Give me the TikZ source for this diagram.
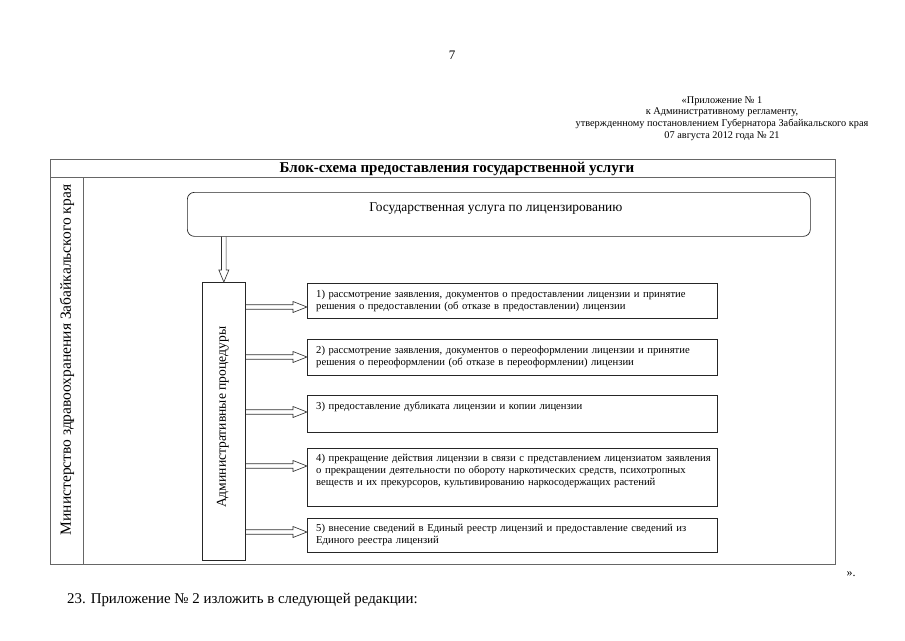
\documentclass[tikz,border=0pt]{standalone}
\usepackage{fontspec}
\setmainfont{Liberation Serif}
\usetikzlibrary{calc}
\newcommand\myHarrow[2]{\draw[arrowst] let \p1=(#1), \p2=(#2) in (\x1,\y1+2.3pt) -- (\x2-14pt,\y1+2.3pt) -- (\x2-14pt,\y1+5.5pt) -- (\x2,\y1) -- (\x2-14pt,\y1-5.5pt) -- (\x2-14pt,\y1-2.3pt) -- (\x1,\y1-2.3pt);}
\newcommand\myVarrow[2]{\draw[arrowst] let \p1=(#1), \p2=(#2) in (\x1-2.3pt,\y1) -- (\x1-2.3pt,\y2+12pt) -- (\x1-5pt,\y2+12pt) -- (\x1,\y2) -- (\x1+5pt,\y2+12pt) -- (\x1+2.3pt,\y2+12pt) -- (\x1+2.3pt,\y1);}
\begin{document}
\begin{tikzpicture}[x=1pt,y=-1pt,
  framest/.style={draw=black!60, line width=0.8pt},
  procbox/.style={draw=black!85, line width=0.7pt, anchor=north west, inner sep=0pt, minimum width=410pt},
  boxtext/.style={anchor=north west, font=\fontsize{10.65}{12}\selectfont, align=left, inner sep=0pt, text width=405pt},
  arrowst/.style={draw=black!80, line width=0.65pt}]
\useasboundingbox (0,0) rectangle (905,640);
\fill[white] (0,0) rectangle (905,640);

% page number and header
\node[font=\fontsize{13}{15}\selectfont] (pnum) at (452,55) {7};
\node[align=center, font=\fontsize{10.3}{11.7}\selectfont, inner sep=0pt] (header) at (722,118.5)
  {«Приложение № 1\\к Административному регламенту,\\утвержденному постановлением Губернатора Забайкальского края\\07 августа 2012 года № 21};

% frame
\node[framest, anchor=north west, minimum width=785pt, minimum height=405pt, inner sep=0pt] (frame) at (50,159) {};
\draw[framest] (frame.west |- 0,177) -- (frame.east |- 0,177);
\draw[framest] (83,177) -- (frame.south -| 83,0);
\node[font=\bfseries\fontsize{15}{17}\selectfont] (title) at (457,168.5) {Блок-схема предоставления государственной услуги};
\node[rotate=90, font=\fontsize{15.5}{17}\selectfont] (ministry) at (67,360) {Министерство здравоохранения Забайкальского края};

% top rounded box
\node[draw=black!85, line width=0.7pt, rounded corners=7pt, anchor=north west, minimum width=623pt, minimum height=44pt, inner sep=0pt] (top) at (187,192) {};
\node[font=\fontsize{13.4}{15}\selectfont] (toptext) at ($(top.north)+(-3,17)$) {Государственная услуга по лицензированию};

% admin box
\node[draw=black!85, line width=0.7pt, anchor=north west, minimum width=43pt, minimum height=278pt, inner sep=0pt] (adm) at (202,282) {};
\node[rotate=90, font=\fontsize{13.6}{15}\selectfont] (admtext) at ($(adm.center)+(-1,-4)$) {Административные процедуры};

% procedure boxes
\node[procbox, minimum height=35pt] (b1) at (307,283) {};
\node[procbox, minimum height=36pt] (b2) at (307,339) {};
\node[procbox, minimum height=37pt] (b3) at (307,395) {};
\node[procbox, minimum height=58pt] (b4) at (307,448) {};
\node[procbox, minimum height=34pt] (b5) at (307,518) {};

\node[boxtext] (t1) at ($(b1.north west)+(9,7)$) {1) рассмотрение заявления, документов о предоставлении лицензии и принятие\\решения о предоставлении (об отказе в предоставлении) лицензии};
\node[boxtext] (t2) at ($(b2.north west)+(9,7)$) {2) рассмотрение заявления, документов о переоформлении лицензии и принятие\\решения о переоформлении (об отказе в переоформлении) лицензии};
\node[boxtext] (t3) at ($(b3.north west)+(9,7)$) {3) предоставление дубликата лицензии и копии лицензии};
\node[boxtext] (t4) at ($(b4.north west)+(9,6)$) {4) прекращение действия лицензии в связи с представлением лицензиатом заявления\\о прекращении деятельности по обороту наркотических средств, психотропных\\веществ и их прекурсоров, культивированию наркосодержащих растений};
\node[boxtext] (t5) at ($(b5.north west)+(9,6)$) {5) внесение сведений в Единый реестр лицензий и предоставление сведений из\\Единого реестра лицензий};

% arrows
\coordinate (e1) at (307,307);
\coordinate (e2) at (307,357);
\coordinate (e3) at (307,412);
\coordinate (e4) at (307,466);
\coordinate (e5) at (307,532);
\myVarrow{top.south -| adm.north}{adm.north}
\myHarrow{adm.east |- e1}{e1}
\myHarrow{adm.east |- e2}{e2}
\myHarrow{adm.east |- e3}{e3}
\myHarrow{adm.east |- e4}{e4}
\myHarrow{adm.east |- e5}{e5}

% trailing text
\node[font=\fontsize{12}{14}\selectfont] (close) at (851,574) {».};
\node[anchor=west, font=\fontsize{14.9}{17}\selectfont, inner sep=0pt] (para) at (67,600) {23. Приложение № 2 изложить в следующей редакции:};
\end{tikzpicture}
\end{document}
